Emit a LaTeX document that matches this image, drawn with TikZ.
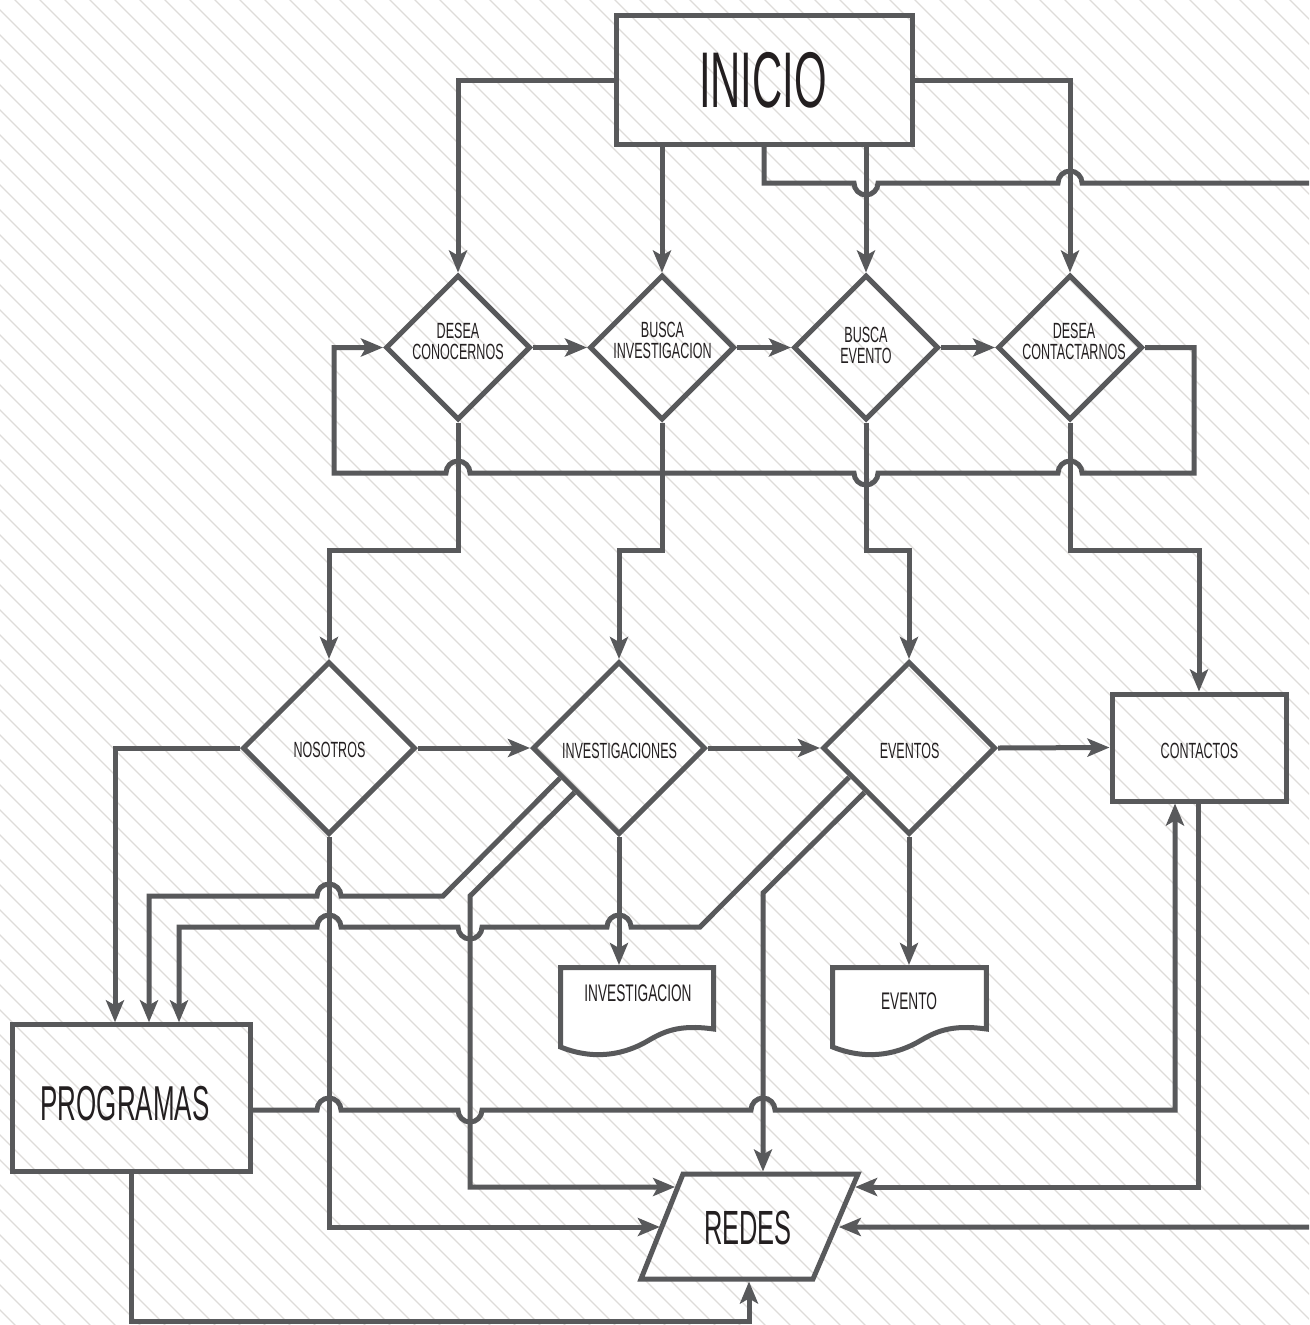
\documentclass[tikz,border=0pt]{standalone}
\usepackage{fontspec}
\setmainfont{Liberation Sans}
\newfontfamily\bigfont{Liberation Sans}[FakeStretch=0.53]
\newfontfamily\smallfont{Liberation Sans}[FakeStretch=0.57]
\usetikzlibrary{shapes.geometric,arrows.meta}
\definecolor{lc}{HTML}{58595B}
\definecolor{tc}{HTML}{231F20}
\definecolor{hc}{HTML}{DEDCD9}
\begin{document}
\begin{tikzpicture}[x=1pt,y=-1pt,
  conn/.style={draw=lc,line width=5pt},
  arr/.style={conn,-{Stealth[length=22pt,width=18pt,inset=5pt]}},
  dia/.style={diamond,draw=lc,line width=5pt,inner sep=0pt,aspect=1},
  box/.style={rectangle,draw=lc,line width=5pt,inner sep=0pt},
  lblS/.style={text=tc,font=\smallfont\fontsize{22}{21}\selectfont,align=center,inner sep=0pt},
  lblD/.style={text=tc,font=\smallfont\fontsize{24}{24}\selectfont,inner sep=0pt},
  lblB/.style={text=tc,inner sep=0pt},
  hatch/.style={draw=hc,line width=1.2pt}]
\useasboundingbox (0,0) rectangle (1309,1325);
\clip (0,0) rectangle (1309,1325);
\fill[white] (0,0) rectangle (1309,1325);
\foreach \k in {-56,...,54} \draw[hatch] (\k*25+10,-5) -- ++(1400,1400);

% ---- shapes ----
\node[box,minimum width=296pt,minimum height=129pt] (inicio) at (764,80) {};
\node[dia,minimum width=145pt,minimum height=145pt] (d1) at (458,347.5) {};
\node[dia,minimum width=145pt,minimum height=145pt] (d2) at (662,347.5) {};
\node[dia,minimum width=145pt,minimum height=145pt] (d3) at (866,347.5) {};
\node[dia,minimum width=145pt,minimum height=145pt] (d4) at (1070,347.5) {};
\node[dia,minimum width=173pt,minimum height=173pt] (d5) at (329,748) {};
\node[dia,minimum width=173pt,minimum height=173pt] (d6) at (619,748) {};
\node[dia,minimum width=173pt,minimum height=173pt] (d7) at (909,748) {};
\node[box,minimum width=174pt,minimum height=107pt] (contactos) at (1199,747.5) {};
\node[box,minimum width=238pt,minimum height=147pt] (programas) at (131.5,1098.3) {};

\draw[conn,fill=white] (560.5,967.5) -- (713.5,967.5) -- (713.5,1029)
  .. controls (677.8,1024) and (662.8,1032) .. (645.8,1042)
  .. controls (627.8,1052) and (597.8,1062) .. (560.5,1047) -- cycle;
\draw[conn,fill=white] (832.7,967.5) -- (986.4,967.5) -- (986.4,1029)
  .. controls (950,1024) and (935,1032) .. (918,1042)
  .. controls (900,1052) and (870,1062) .. (832.7,1047) -- cycle;
\draw[conn] (683,1174) -- (858,1174) -- (813,1279) -- (641,1279) -- cycle;

\coordinate (docItop) at (619,965);
\coordinate (docEtop) at (909,965);
\coordinate (rT) at (763,1171.5);
\coordinate (rB) at (749,1281.5);
\coordinate (rL1) at (675.1,1187);
\coordinate (rL2) at (659.9,1227);
\coordinate (rR1) at (855.1,1187);
\coordinate (rR2) at (838.8,1227);

% ---- labels ----
\node[lblB,font=\bigfont\fontsize{79}{79}\selectfont] (t0) at (763,80) {INICIO};
\node[lblS] (t1) at (458,341.5) {DESEA\\CONOCERNOS};
\node[lblS] (t2) at (662.5,340.5) {BUSCA\\INVESTIGACION};
\node[lblS] (t3) at (866,345) {BUSCA\\EVENTO};
\node[lblS] (t4) at (1074,341) {DESEA\\CONTACTARNOS};
\node[lblS] (t5) at (329.5,750.3) {NOSOTROS};
\node[lblS] (t6) at (619.5,750.7) {INVESTIGACIONES};
\node[lblS] (t7) at (909.6,750.5) {EVENTOS};
\node[lblS] (t8) at (1199.5,750.5) {CONTACTOS};
\node[lblD] (t9) at (638,993) {INVESTIGACION};
\node[lblD] (t10) at (909,1001) {EVENTO};
\node[lblB,font=\bigfont\fontsize{49}{49}\selectfont] (t11) at (125,1103.5) {PROGRAMAS};
\node[lblB,font=\bigfont\fontsize{48}{48}\selectfont] (redes) at (748,1228.3) {REDES};

% ---- connectors from INICIO ----
\draw[arr] (inicio.west) -| (d1.north);
\draw[arr] (inicio.east) -| (d4.north);
\draw[arr] (inicio.south -| d2.north) -- (d2.north);
\draw[arr] (inicio.south -| d3.north) -- (d3.north);
\draw[arr] (inicio.south) -- (764,183) -- (854,183)
  arc[start angle=180,end angle=0,radius=12] -- (1058,183)
  arc[start angle=180,end angle=360,radius=12] -- (1330,183) -- (1330,1227) -- (rR2);

% ---- first row ----
\draw[arr] (d1.east) -- (d2.west);
\draw[arr] (d2.east) -- (d3.west);
\draw[arr] (d3.east) -- (d4.west);
\draw[arr] (d4.east) -- (1194,347.5) -- (1194,473) -- (1082,473)
  arc[start angle=0,end angle=-180,radius=12] -- (878,473)
  arc[start angle=0,end angle=180,radius=12] -- (470,473)
  arc[start angle=0,end angle=-180,radius=12] -- (334,473) -- (334,347.5) -- (d1.west);
\draw[arr] (d1.south) -- (458,550) -| (d5.north);
\draw[arr] (d2.south) -- (662,550) -| (d6.north);
\draw[arr] (d3.south) -- (866,550) -| (d7.north);
\draw[arr] (d4.south) -- (1070,550) -| (contactos.north);

% ---- second row ----
\draw[arr] (d5.east) -- (d6.west);
\draw[arr] (d6.east) -- (d7.west);
\draw[arr] (d7.east) -- (contactos.west);
\draw[arr] (d5.west) -| (115,0 |- programas.north);
\draw[arr] (d6.207) -- (443,896) -- (341,896)
  arc[start angle=0,end angle=-180,radius=12] -- (149,896) -- (149,0 |- programas.north);
\draw[arr] (d6.south west) -- (470,896) -- (470,1187) -- (rL1);
\draw[arr] (d7.206) -- (700,927) -- (631,927)
  arc[start angle=0,end angle=-180,radius=12] -- (482,927)
  arc[start angle=0,end angle=180,radius=12] -- (341,927)
  arc[start angle=0,end angle=-180,radius=12] -- (179,927) -- (179,0 |- programas.north);
\draw[arr] (d7.south west) -- (763,893) -- (rT);
\draw[arr] (d5.south) -- (329,1227) -- (rL2);
\draw[arr] (d6.south) -- (docItop);
\draw[arr] (d7.south) -- (docEtop);

% ---- from PROGRAMAS and CONTACTOS ----
\draw[arr] (programas.east |- 0,1110) -- (317,1110)
  arc[start angle=180,end angle=360,radius=12] -- (458,1110)
  arc[start angle=180,end angle=0,radius=12] -- (751,1110)
  arc[start angle=180,end angle=360,radius=12] -- (1175,1110) -- (1175,0 |- contactos.south);
\draw[arr] (1198,0 |- contactos.south) -- (1198,1187) -- (rR1);
\draw[arr] (programas.south) -- (131.5,1321) -- (749,1321) -- (rB);
\end{tikzpicture}
\end{document}
